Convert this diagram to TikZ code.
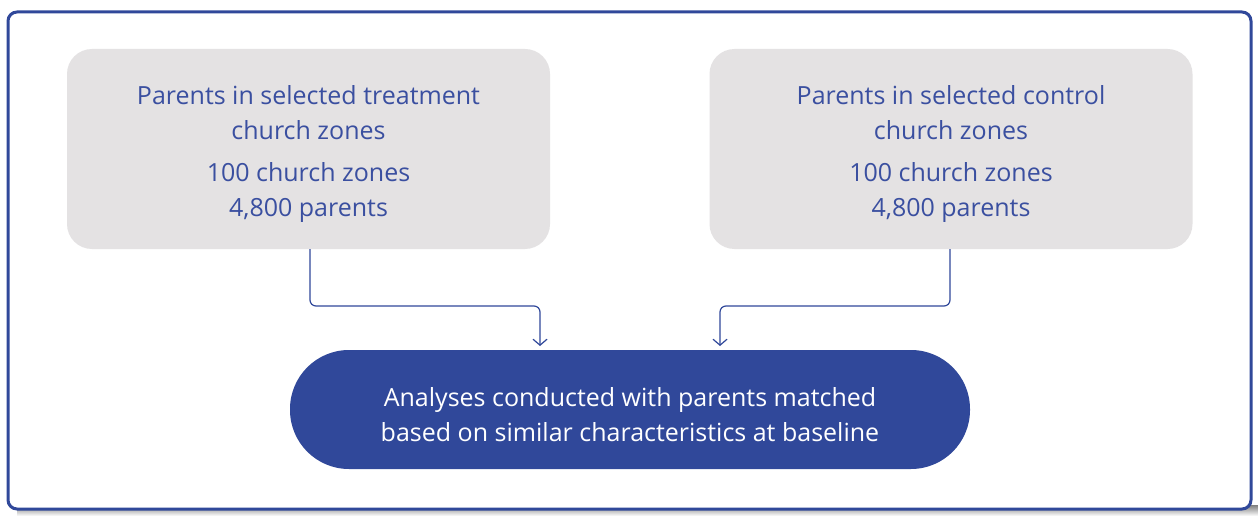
\documentclass[tikz,border=0pt]{standalone}
\usepackage{fontspec}
\setmainfont{Open Sans}
\usetikzlibrary{arrows.meta}
\definecolor{navy}{HTML}{30489A}
\definecolor{boxgrey}{HTML}{E4E2E3}
\definecolor{shade}{HTML}{C0C3E3}
\definecolor{inktext}{HTML}{3A4FA0}
\newcommand{\centredlines}[2]{\raisebox{#1}[0pt][0pt]{\begin{tabular}{@{}c@{}}#2\end{tabular}}}
\begin{document}
\begin{tikzpicture}[x=1pt,y=-1pt,
  greybox/.style={fill=boxgrey, rounded corners=25pt, minimum width=483pt, minimum height=200pt,
    text=inktext, font=\fontsize{25}{35}\selectfont, inner sep=0pt},
  pill/.style={fill=navy, rounded corners=59pt, minimum width=680pt, minimum height=119pt,
    text=white, font=\fontsize{25}{35}\selectfont, inner sep=0pt},
  link/.style={draw=navy, line width=1.2pt, rounded corners=6pt,
    -{Straight Barb[length=6pt,width=14pt,line width=1.2pt]}}]
  \useasboundingbox (0,0) rectangle (1258,516);
  % frame with its shadow along the foot
  \fill[shade] (17,505) rectangle (1258,516);
  \draw[navy, line width=3pt, fill=white, rounded corners=9pt] (8,12) rectangle (1251,509);
  % the two source groups
  \node[greybox] (treat) at (308.5,149) {\centredlines{-11pt}{Parents in selected treatment\\church zones\\[7pt]100 church zones\\4,800 parents}};
  \node[greybox] (ctrl) at (951,149) {\centredlines{-11pt}{Parents in selected control\\church zones\\[7pt]100 church zones\\4,800 parents}};
  % matched analysis
  \node[pill] (ana) at (630,409.5) {\centredlines{-14pt}{Analyses conducted with parents matched\\based on similar characteristics at baseline}};
  \coordinate (lt) at (540,346);
  \coordinate (rt) at (720,346);
  \draw[link] (treat.south -| 310,0) |- (425,306) -| (lt);
  \draw[link] (ctrl.south -| 950,0) |- (835,306) -| (rt);
\end{tikzpicture}
\end{document}
